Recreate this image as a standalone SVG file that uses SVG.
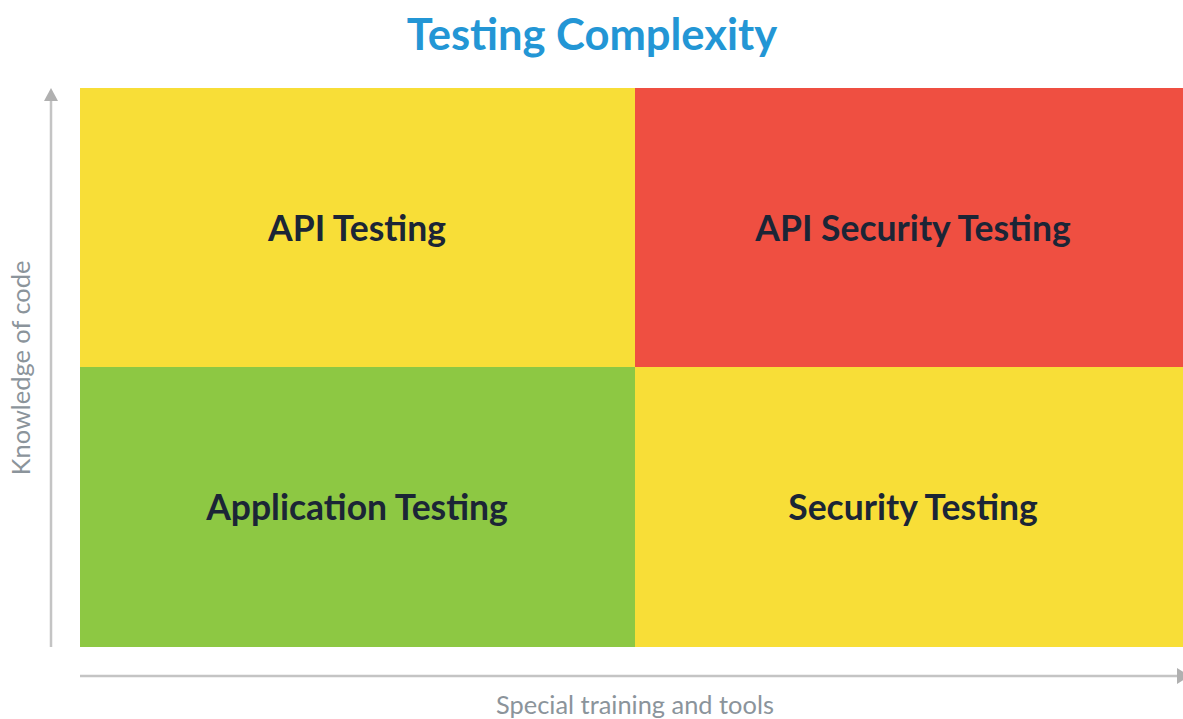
<svg xmlns="http://www.w3.org/2000/svg" width="1183" height="719" viewBox="0 0 1183 719">
  <style>
    .title { font-family: Lato, "Liberation Sans", sans-serif; font-weight: 700; font-size: 43.5px; fill: #2396d5; }
    .cell-label { font-family: Lato, "Liberation Sans", sans-serif; font-weight: 700; font-size: 35.5px; fill: #1b2536; }
    .axis-label { font-family: Lato, "Liberation Sans", sans-serif; font-size: 25.4px; fill: #8b949b; }
    .axis { stroke: #c4c4c4; stroke-width: 2.5; fill: none; }
    .arrow { fill: #b0b0b0; }
  </style>

  <rect width="1183" height="719" fill="#ffffff"/>

  <text class="title" x="592" y="50" text-anchor="middle">Testing Complexity</text>

  <g id="q-api-testing">
    <rect x="80" y="88" width="555" height="279" fill="#f8de37"/>
    <text class="cell-label" x="357" y="241" text-anchor="middle">API Testing</text>
  </g>
  <g id="q-api-security-testing">
    <rect x="635" y="88" width="548" height="279" fill="#ef4f41"/>
    <text class="cell-label" x="913" y="241" text-anchor="middle">API Security Testing</text>
  </g>
  <g id="q-application-testing">
    <rect x="80" y="367" width="555" height="280" fill="#8dc843"/>
    <text class="cell-label" x="357" y="520" text-anchor="middle">Application Testing</text>
  </g>
  <g id="q-security-testing">
    <rect x="635" y="367" width="548" height="280" fill="#f8de37"/>
    <text class="cell-label" x="913" y="520" text-anchor="middle">Security Testing</text>
  </g>

  <g id="axes">
    <line class="axis" x1="51" y1="647" x2="51" y2="98"/>
    <polygon class="arrow" points="51,88 58,101 44,101"/>
    <line class="axis" x1="80" y1="676" x2="1178" y2="676"/>
    <polygon class="arrow" points="1190,676 1177,668 1177,684"/>
  </g>

  <text class="axis-label" x="635" y="714" text-anchor="middle">Special training and tools</text>
  <text class="axis-label" transform="translate(30,368) rotate(-90)" text-anchor="middle">Knowledge of code</text>
</svg>
